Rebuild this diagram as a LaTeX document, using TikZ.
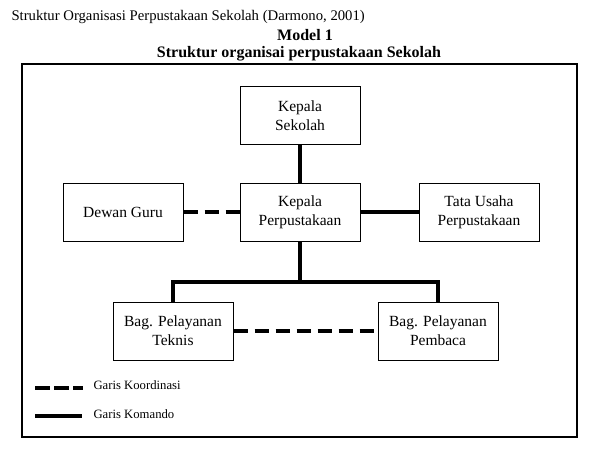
\documentclass[tikz,border=0pt]{standalone}
\usepackage{fontspec}
\setmainfont{Liberation Serif}

\begin{document}
\begin{tikzpicture}
  [x=1pt,y=-1pt,
    kotak/.style={draw,line width=1pt,minimum width=120pt,
    minimum height=58pt,align=center,
    font=\fontsize{15.5}{19}\selectfont},
    komando/.style={line width=4pt},
    koordinasi/.style={line width=4pt,dash pattern=on 14pt off 7pt},
    keterangan/.style={anchor=west,font=\fontsize{12.7}{15}\selectfont}]
  \useasboundingbox (0,0) rectangle (604,457);
  \node[anchor=base west,font=\fontsize{14.7}{17}\selectfont] (sumber) at (8,21)
    {Struktur Organisasi Perpustakaan Sekolah (Darmono, 2001)};
  \node[anchor=base,inner sep=0pt,font=\fontsize{16}{18}\bfseries] (model) at (305,41) {Model 1};
  \node[anchor=base,inner sep=0pt,font=\fontsize{16}{18}\bfseries] (judul) at (299,58)
    {Struktur organisai perpustakaan Sekolah};
  \draw[line width=1.2pt] (22,64) rectangle (577,437);
  % kotak-kotak
  \node[kotak] (kepsek) at (300,116) {Kepala\\Sekolah};
  \node[kotak] (kepus) at (300,212) {Kepala\\Perpustakaan};
  \node[kotak] (dewan) at (123,212) {Dewan Guru};
  \node[kotak] (tatausaha) at (479,212) {Tata Usaha\\Perpustakaan};
  \node[kotak] (teknis) at (173,331) {Bag. Pelayanan\\Teknis};
  \node[kotak] (pembaca) at (438,331) {Bag. Pelayanan\\Pembaca};
  \coordinate (cabang) at (300,282);
  % garis
  \draw[komando] (kepsek) -- (kepus);
  \draw[koordinasi] (dewan) -- (kepus);
  \draw[komando] (kepus) -- (tatausaha);
  \draw[komando] (kepus) -- (cabang);
  \draw[komando] (teknis.north) |- (cabang) -| (pembaca.north);
  \draw[koordinasi] (teknis) -- (pembaca);
  % keterangan
  \coordinate (ko1) at (35,388);
  \coordinate (ko2) at (83,388);
  \coordinate (km1) at (35,416);
  \coordinate (km2) at (82,416);
  \draw[koordinasi,dash pattern=on 15pt off 4pt] (ko1) -- (ko2);
  \draw[komando] (km1) -- (km2);
  \node[keterangan] (garisko) at (90,385) {Garis Koordinasi};
  \node[keterangan] (gariskm) at (90,414) {Garis Komando};
\end{tikzpicture}
\end{document}
